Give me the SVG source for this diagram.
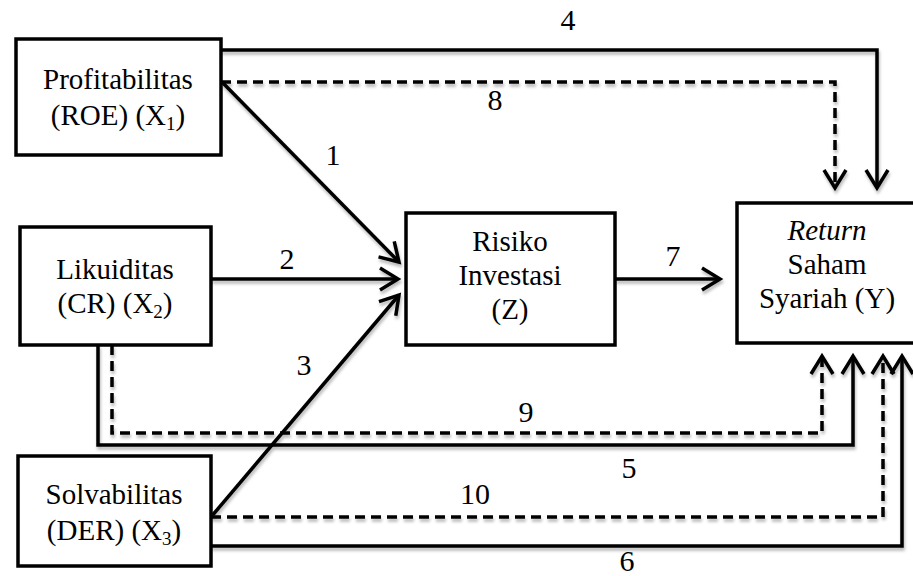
<svg xmlns="http://www.w3.org/2000/svg" width="913" height="576" viewBox="0 0 913 576">
<style>
  .box { fill: #ffffff; stroke: #000000; stroke-width: 3.5; }
  .ln { fill: none; stroke: #000000; stroke-width: 3.5; stroke-linejoin: miter; }
  .dash { stroke-dasharray: 10 6; }
</style>
<defs>
  <filter id="sh" x="-5%" y="-20%" width="110%" height="140%">
    <feDropShadow dx="1" dy="3" stdDeviation="1.5" flood-color="#000000" flood-opacity="0.28"/>
  </filter>
  <marker id="arr" markerUnits="userSpaceOnUse" viewBox="-24 -15 28 30" refX="0" refY="0" markerWidth="28" markerHeight="30" orient="auto">
    <path d="M-18,-11 L0,0 L-18,11" fill="none" stroke="#000000" stroke-width="3.5" stroke-linejoin="miter"/>
  </marker>
</defs>

<g id="connectors" filter="url(#sh)">
  <path id="c4" class="ln" d="M221,50 H877 V188" marker-end="url(#arr)"/>
  <path id="c8" class="ln dash" d="M221,82 H835 V188" marker-end="url(#arr)"/>
  <path id="c1" class="ln" d="M222,82 L399,262" marker-end="url(#arr)"/>
  <path id="c2" class="ln" d="M211,279 H398" marker-end="url(#arr)"/>
  <path id="c3" class="ln" d="M211,517 L399,295" marker-end="url(#arr)"/>
  <path id="c7" class="ln" d="M615,279 H720" marker-end="url(#arr)"/>
  <path id="c9" class="ln dash" d="M112,345 V433 H822 V356" marker-end="url(#arr)"/>
  <path id="c5" class="ln" d="M98,345 V445 H853 V356" marker-end="url(#arr)"/>
  <path id="c10" class="ln dash" d="M211,517 H883 V356" marker-end="url(#arr)"/>
  <path id="c6" class="ln" d="M211,546 H902 V356" marker-end="url(#arr)"/>
</g>

<g id="labels" font-size="30" text-anchor="middle">
  <text font-family="Liberation Serif" x="568" y="30">4</text>
  <text font-family="Liberation Serif" x="495" y="110">8</text>
  <text font-family="Liberation Serif" x="333" y="165">1</text>
  <text font-family="Liberation Serif" x="287" y="269">2</text>
  <text font-family="Liberation Serif" x="304" y="375">3</text>
  <text font-family="Liberation Serif" x="673" y="266">7</text>
  <text font-family="Liberation Serif" x="526" y="422">9</text>
  <text font-family="Liberation Serif" x="629" y="478">5</text>
  <text font-family="Liberation Serif" x="475" y="504">10</text>
  <text font-family="Liberation Serif" x="627" y="571">6</text>
</g>

<g id="x1" font-size="29" text-anchor="middle">
  <rect class="box" x="16" y="39" width="205" height="116"/>
  <text font-family="Liberation Serif" x="118" y="89">Profitabilitas</text>
  <text font-family="Liberation Serif" x="118" y="125">(ROE) (X<tspan font-size="19" dy="5">1</tspan><tspan dy="-5">)</tspan></text>
</g>

<g id="x2" font-size="29" text-anchor="middle">
  <rect class="box" x="20" y="227" width="191" height="118"/>
  <text font-family="Liberation Serif" x="115" y="279">Likuiditas</text>
  <text font-family="Liberation Serif" x="115" y="313">(CR) (X<tspan font-size="19" dy="5">2</tspan><tspan dy="-5">)</tspan></text>
</g>

<g id="x3" font-size="29" text-anchor="middle">
  <rect class="box" x="18" y="456" width="193" height="110"/>
  <text font-family="Liberation Serif" x="114" y="504">Solvabilitas</text>
  <text font-family="Liberation Serif" x="114" y="540">(DER) (X<tspan font-size="19" dy="5">3</tspan><tspan dy="-5">)</tspan></text>
</g>

<g id="z" font-size="29" text-anchor="middle">
  <rect class="box" x="406" y="213" width="209" height="132"/>
  <text font-family="Liberation Serif" x="510" y="251">Risiko</text>
  <text font-family="Liberation Serif" x="510" y="285">Investasi</text>
  <text font-family="Liberation Serif" x="510" y="319">(Z)</text>
</g>

<g id="y" font-size="29" text-anchor="middle">
  <rect class="box" x="737" y="203" width="180" height="140"/>
  <text font-family="Liberation Serif" x="827" y="240" font-style="italic">Return</text>
  <text font-family="Liberation Serif" x="827" y="274">Saham</text>
  <text font-family="Liberation Serif" x="827" y="308">Syariah (Y)</text>
</g>
</svg>
